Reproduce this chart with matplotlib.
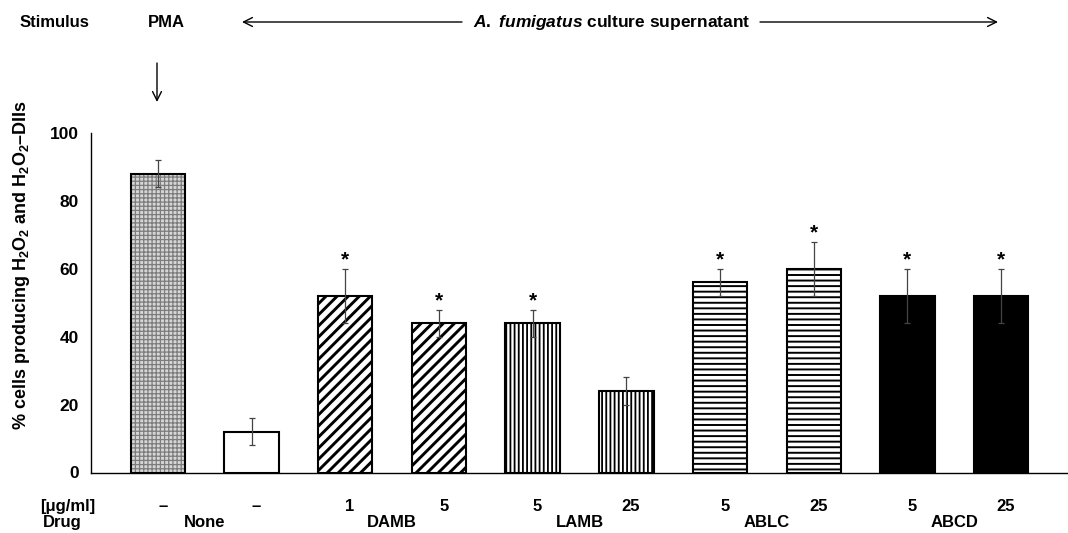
import matplotlib
matplotlib.use("Agg")
import matplotlib.pyplot as plt
import numpy as np

# data
drugs = ["None", "DAMB", "LAMB", "ABLC", "ABCD"]
doses = ["–", "–", "1", "5", "5", "25", "5", "25", "5", "25"]
means = [88, 12, 52, 44, 44, 24, 56, 60, 52, 52]
errs = [4, 4, 8, 4, 4, 4, 4, 8, 8, 8]
signif = [False, False, True, True, True, False, True, True, True, True]

plt.rcParams['font.family'] = ['Liberation Sans', 'DejaVu Sans']
plt.rcParams['font.weight'] = 'bold'
plt.rcParams['mathtext.fontset'] = 'custom'
plt.rcParams['mathtext.rm'] = 'Liberation Sans:bold'
plt.rcParams['mathtext.it'] = 'Liberation Sans:bold:italic'
plt.rcParams['mathtext.bf'] = 'Liberation Sans:bold'

# bar styles: (face, hatch, hatch colour, hatch lw)
styles = [
    ("#d6d6d6", "++++", "#7c7c7c", 0.9),
    ("white", None, None, 0),
    ("white", "///", "black", 2.1),
    ("white", "///", "black", 2.1),
    ("white", "||||", "black", 1.3),
    ("white", "||||", "black", 1.3),
    ("white", "---", "black", 1.4),
    ("white", "---", "black", 1.4),
    ("black", None, None, 0),
    ("black", None, None, 0),
]

W, H = 1068, 533
fig = plt.figure(figsize=(W / 100, H / 100), dpi=100)
ax = fig.add_axes([91 / W, 60.5 / H, 977 / W, 339.5 / H])

x = np.arange(len(means))
bw = 0.58
for i in range(len(means)):
    face, hatch, hcol, hlw = styles[i]
    if hatch:
        with plt.rc_context({'hatch.linewidth': hlw}):
            b = ax.bar(x[i], means[i], bw, color=face, hatch=hatch,
                       edgecolor=hcol, linewidth=0, zorder=2)
        for p in b:
            if hasattr(p, "set_hatch_linewidth"):
                p.set_hatch_linewidth(hlw)
    else:
        ax.bar(x[i], means[i], bw, color=face, linewidth=0, zorder=2)
    ax.bar(x[i], means[i], bw, fill=False, edgecolor="black", linewidth=1.5, zorder=3)

ax.errorbar(x, means, yerr=errs, fmt="none", ecolor="#444444",
            elinewidth=0.9, capsize=2.5, capthick=0.9, zorder=4)

for i in range(len(means)):
    if signif[i]:
        ax.text(x[i], means[i] + errs[i] - 0.3, "*", ha="center", va="bottom",
                fontsize=15, fontweight="bold")

ax.set_xlim(-0.715, 9.715)
ax.set_ylim(0, 100)
ax.set_yticks([0, 20, 40, 60, 80, 100])
ax.set_xticks([])
ax.tick_params(axis="y", length=0, pad=9, labelsize=12.5)
for lab in ax.get_yticklabels():
    lab.set_fontweight("bold")
ax.spines["top"].set_visible(False)
ax.spines["right"].set_visible(False)
ax.spines["left"].set_linewidth(1.0)
ax.spines["bottom"].set_linewidth(1.0)

# labels below the axis
tr = ax.get_xaxis_transform()
def yfrac(ypx):
    return (472.5 - ypx) / 339.5

for i in range(len(doses)):
    ax.text(x[i] + 0.05, yfrac(511), doses[i], transform=tr, ha="center",
            va="baseline", fontsize=12, fontweight="bold")
for k, d in enumerate(drugs):
    ax.text(2 * k + 0.5, yfrac(527), d, transform=tr, ha="center",
            va="baseline", fontsize=12, fontweight="bold")


def fx(px):
    return px / W


def fy(py):
    return 1 - py / H


fig.text(fx(68), fy(511), "[μg/ml]", ha="center", va="baseline", fontsize=12, fontweight="bold")
fig.text(fx(62), fy(527), "Drug", ha="center", va="baseline", fontsize=12, fontweight="bold")

# y label
fig.text(fx(22), fy(265), r"% cells producing H$_\mathrm{2}$O$_\mathrm{2}$ and H$_\mathrm{2}$O$_\mathrm{2}$–DIIs",
         rotation=90, ha="center", va="center", fontsize=13, fontweight="bold")

# header row
fig.text(fx(20), fy(22), "Stimulus", ha="left", va="center", fontsize=12, fontweight="bold")
fig.text(fx(166), fy(22), "PMA", ha="center", va="center", fontsize=12, fontweight="bold")
fig.text(fx(612), fy(22), r"$\mathit{A.}$ $\mathit{fumigatus}$ culture supernatant",
         ha="center", va="center", fontsize=12.5, fontweight="bold")

arrow = dict(arrowstyle="->", lw=1.0, color="black", mutation_scale=16,
             shrinkA=0, shrinkB=0)
ax.annotate("", xy=(fx(242), fy(22)), xytext=(fx(462), fy(22)),
            xycoords="figure fraction", textcoords="figure fraction", arrowprops=arrow)
ax.annotate("", xy=(fx(998), fy(22)), xytext=(fx(760), fy(22)),
            xycoords="figure fraction", textcoords="figure fraction", arrowprops=arrow)
ax.annotate("", xy=(fx(157), fy(102)), xytext=(fx(157), fy(63)),
            xycoords="figure fraction", textcoords="figure fraction", arrowprops=arrow)

fig.savefig("out.png", dpi=100)
